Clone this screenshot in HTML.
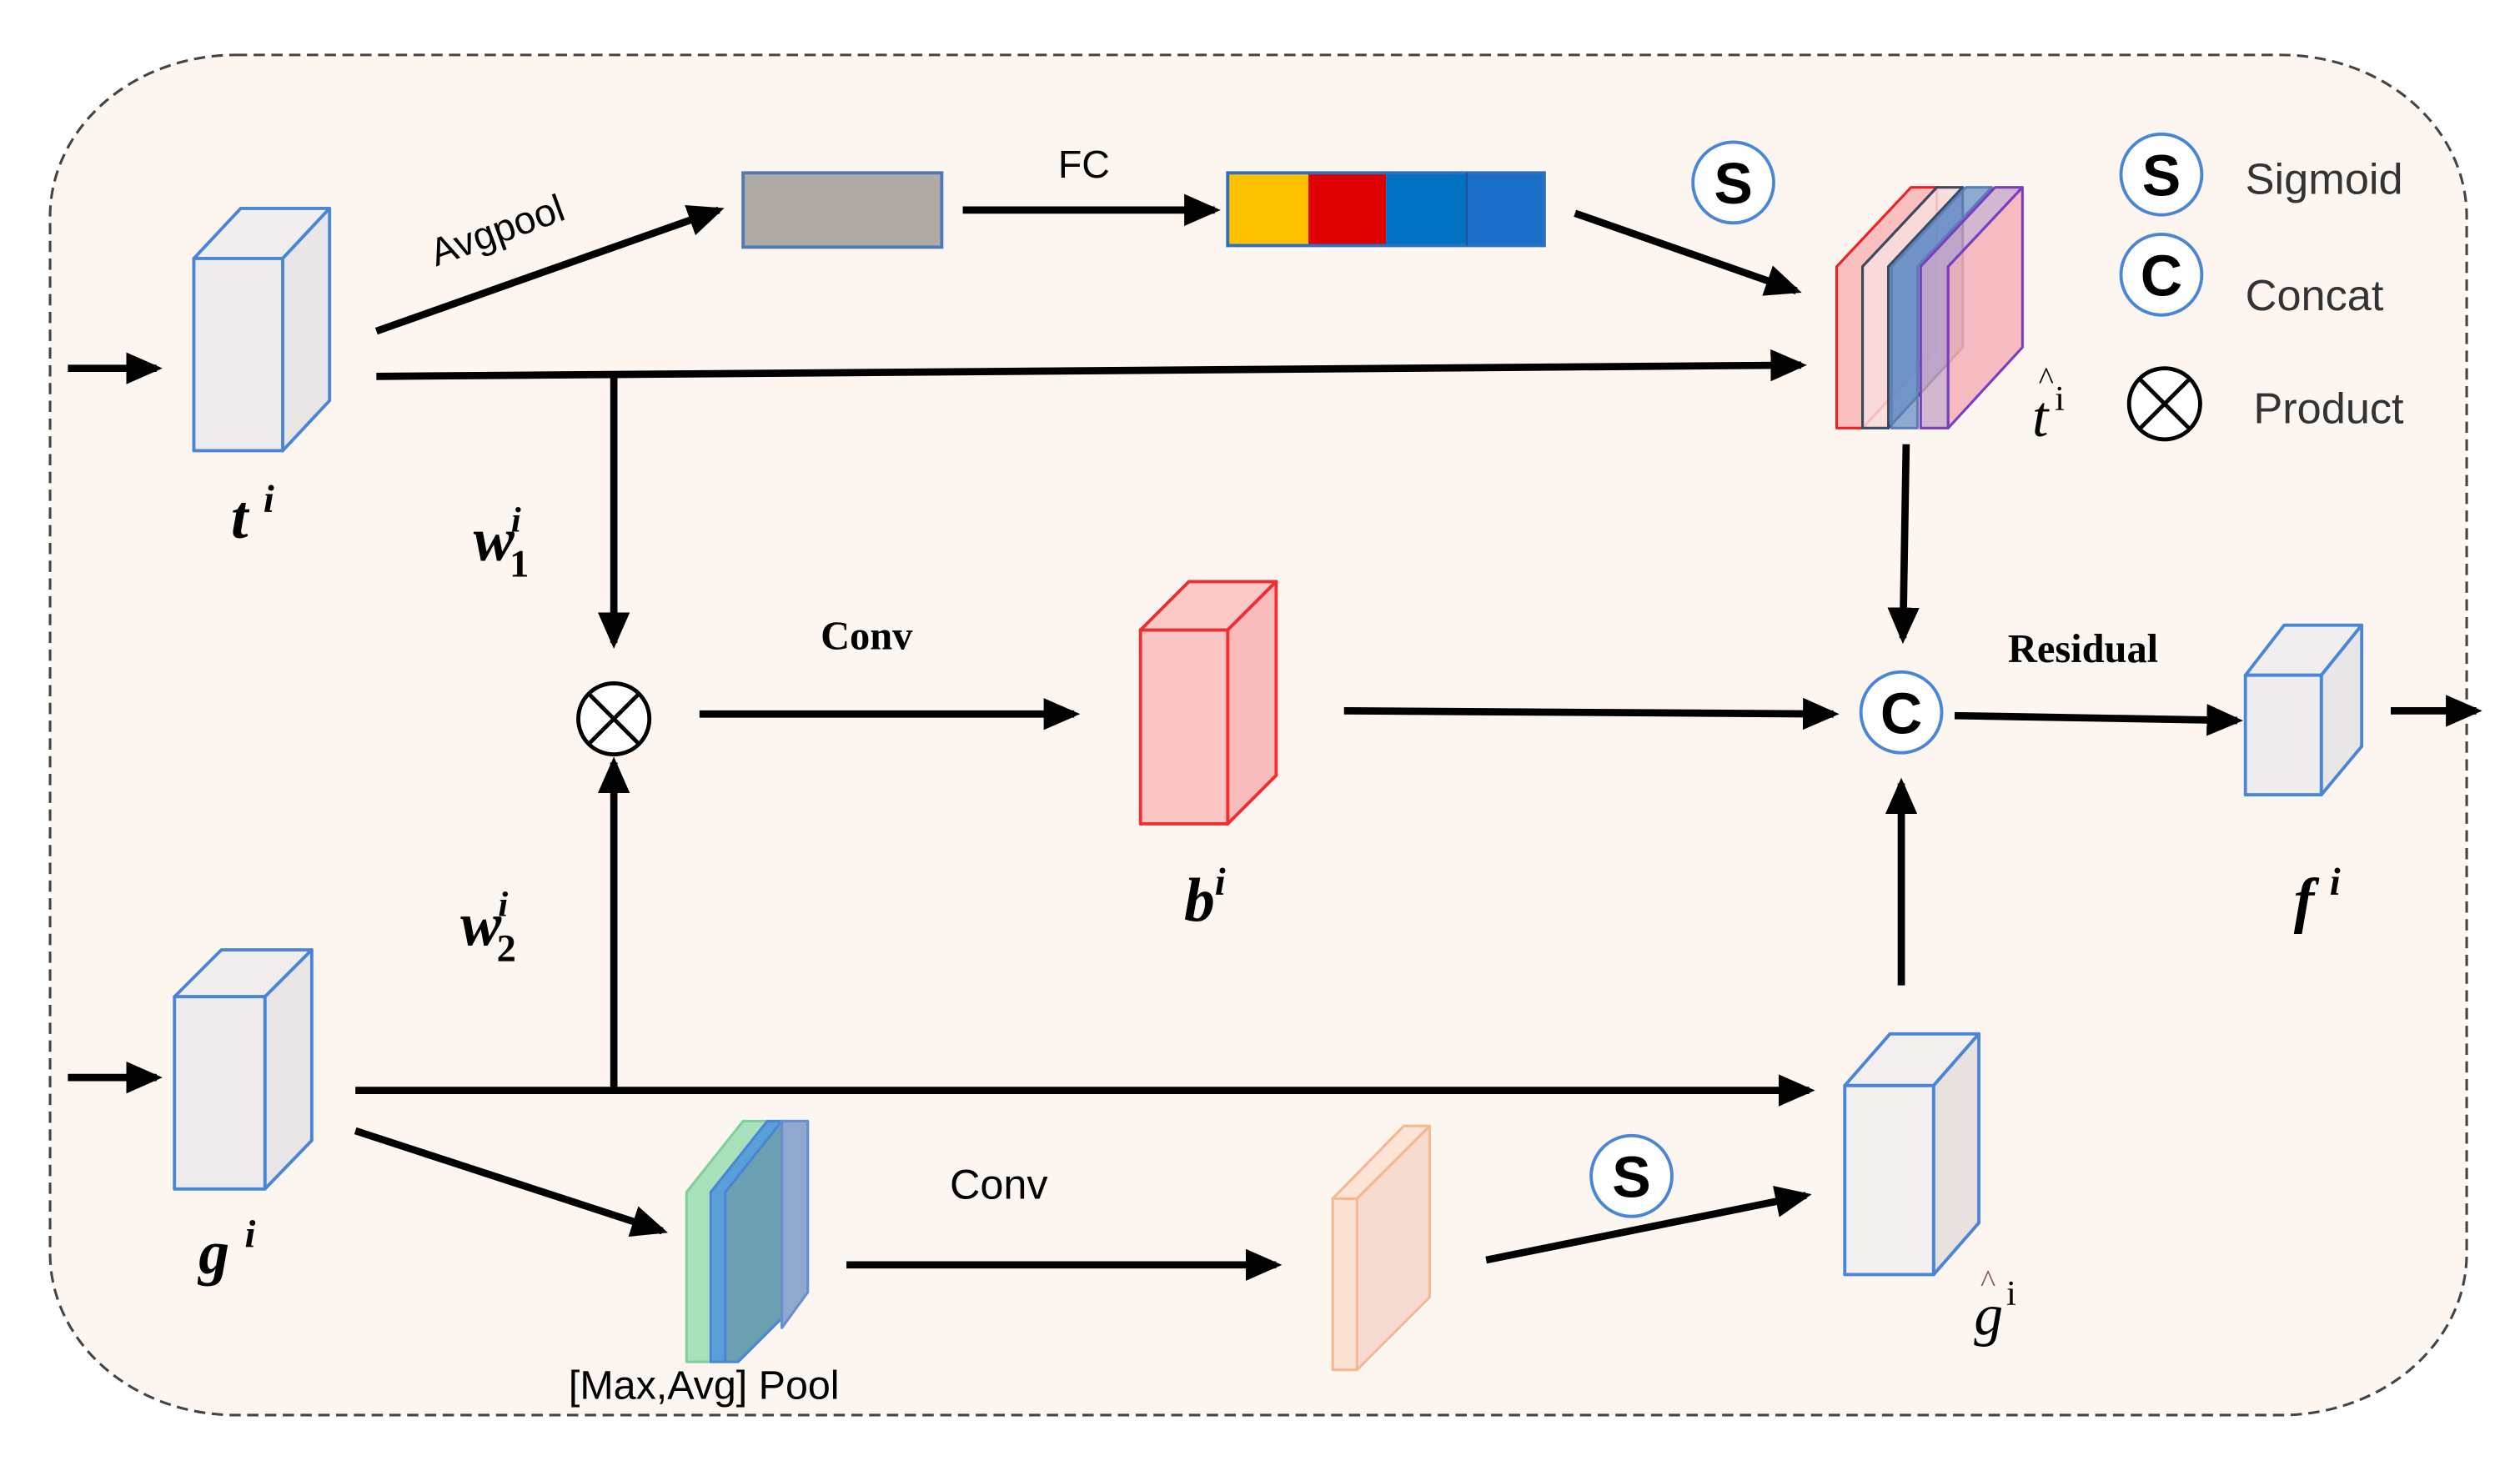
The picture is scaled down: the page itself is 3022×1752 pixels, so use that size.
<!DOCTYPE html>
<html><head><meta charset="utf-8"><style>html,body{margin:0;padding:0;background:#fff}svg{display:block}</style></head><body>
<svg width="3022" height="1752" viewBox="0 0 1560 904.4" xmlns="http://www.w3.org/2000/svg">
<defs>
<marker id="ah" markerWidth="5" markerHeight="4.4" refX="4.2" refY="2.2" orient="auto" markerUnits="strokeWidth">
<path d="M0,0 L5,2.2 L0,4.4 Z" fill="#000"/></marker>
</defs>
<rect x="0" y="0" width="1560" height="904.4" fill="#fff"/>
<rect x="31" y="34" width="1496" height="842" rx="115" ry="100" fill="#fdf5f0" stroke="#444" stroke-width="1.6" stroke-dasharray="7,4"/>

<g stroke="#000" stroke-width="4.5" fill="none" marker-end="url(#ah)">
<line x1="42" y1="228" x2="97" y2="228"/>
<line x1="233" y1="205" x2="445" y2="130"/>
<line x1="233" y1="233" x2="1115" y2="226"/>
<line x1="596" y1="130" x2="752" y2="130"/>
<line x1="975" y1="132" x2="1112" y2="180"/>
<line x1="380" y1="233" x2="380" y2="398"/>
<line x1="433" y1="442" x2="665" y2="442"/>
<line x1="832" y1="440" x2="1135" y2="442"/>
<line x1="1180" y1="275" x2="1178" y2="395"/>
<line x1="1210" y1="443" x2="1385" y2="446"/>
<line x1="1480" y1="440" x2="1533" y2="440"/>
<line x1="42" y1="667" x2="97" y2="667"/>
<line x1="220" y1="675" x2="1120" y2="675"/>
<line x1="380" y1="675" x2="380" y2="472"/>
<line x1="220" y1="700" x2="410" y2="762"/>
<line x1="524" y1="783" x2="790" y2="783"/>
<line x1="920" y1="780" x2="1118" y2="740"/>
<line x1="1177" y1="610" x2="1177" y2="485"/>
</g>

<!-- cube helper shapes -->
<g stroke="#4a86d8" stroke-width="2" stroke-linejoin="round">
<!-- t cube -->
<polygon points="120,160 149,129 204,129 175,160" fill="#f1eeef"/>
<polygon points="175,160 204,129 204,248 175,279" fill="#e9e6e8"/>
<rect x="120" y="160" width="55" height="119" fill="#efecee"/>
<!-- g cube -->
<polygon points="108,617 137,588 193,588 164,617" fill="#f1eeef"/>
<polygon points="164,617 193,588 193,706 164,736" fill="#e9e6e8"/>
<rect x="108" y="617" width="56" height="119" fill="#efecee"/>
<!-- g-hat cube -->
<polygon points="1142,672 1170,640 1225,640 1197,672" fill="#f3efee"/>
<polygon points="1197,672 1225,640 1225,757 1197,789" fill="#e8e1df"/>
<rect x="1142" y="672" width="55" height="117" fill="#f3f0ef"/>
<!-- f cube -->
<polygon points="1390,418 1414,387 1462,387 1437,418" fill="#f1eeef"/>
<polygon points="1437,418 1462,387 1462,462 1437,492" fill="#e9e6e8"/>
<rect x="1390" y="418" width="47" height="74" fill="#efecee"/>
</g>
<!-- b cube red -->
<g stroke="#f03030" stroke-width="2" stroke-linejoin="round">
<polygon points="706,390 736,360 790,360 760,390" fill="#fcc8c8"/>
<polygon points="760,390 790,360 790,480 760,510" fill="#f9bcbc"/>
<rect x="706" y="390" width="54" height="120" fill="#fcc6c6"/>
</g>
<!-- gray box & color bar -->
<rect x="460" y="107" width="123" height="46" fill="#b0aaa7" stroke="#4f7ab8" stroke-width="2"/>
<rect x="760" y="107" width="50" height="45" fill="#ffc000"/>
<rect x="810" y="107" width="48" height="45" fill="#e00000"/>
<rect x="858" y="107" width="50" height="45" fill="#0070c0"/>
<rect x="908" y="107" width="48" height="45" fill="#1a70c8"/>
<rect x="760" y="107" width="196" height="45" fill="none" stroke="#2f6fc0" stroke-width="2"/>
<line x1="908" y1="107" x2="908" y2="152" stroke="#1f4f8f" stroke-width="1"/>

<!-- t-hat stack -->
<g stroke-width="1.6" stroke-linejoin="round">
<polygon points="1137,165 1183,116 1199,116 1153,165 1153,265 1137,265" fill="#f9b6b6" fill-opacity="0.85" stroke="#f02020"/>
<polygon points="1153,165 1199,116 1199,215 1153,265" fill="#f9c6c6" fill-opacity="0.7" stroke="#f02020"/>
<polygon points="1153,165 1199,116 1215,116 1169,165 1169,265 1153,265" fill="#f7dada" fill-opacity="0.85" stroke="#3a4a60"/>
<polygon points="1169,165 1215,116 1215,215 1169,265" fill="#7d97c0" fill-opacity="0.9" stroke="#3a4a60"/>
<polygon points="1171,165 1217,116 1233,116 1187,165 1187,265 1171,265" fill="#6a90c8" fill-opacity="0.75" stroke="#5b7fb8"/>
<polygon points="1189,165 1235,116 1252,116 1206,165 1206,265 1189,265" fill="#c8a6c8" fill-opacity="0.8" stroke="#7a3fc0"/>
<polygon points="1206,165 1252,116 1252,215 1206,265" fill="#f4b0b8" fill-opacity="0.85" stroke="#7a3fc0"/>
</g>
<!-- pool slabs -->
<g stroke-width="1.6" stroke-linejoin="round">
<polygon points="425,738 460,694 475,694 440,738 440,843 425,843" fill="#a8e0bc" stroke="#7fd09a"/>
<polygon points="440,738 475,694 475,798 440,843" fill="#8cc8b0" stroke="#7fd09a"/>
<polygon points="440,738 475,694 484,694 449,738 449,843 440,843" fill="#5aa0d8" stroke="#4a86d8"/>
<polygon points="449,738 484,694 500,694 500,800 457,843 449,843" fill="#6aa0b0" stroke="#4a86d8"/>
<polygon points="484,694 500,694 500,800 484,822" fill="#8fa8d0" stroke="#6a8ed0"/>
</g>
<!-- orange slab -->
<g stroke="#f6b890" stroke-width="1.6" stroke-linejoin="round">
<polygon points="825,742 869,697 885,697 840,742" fill="#fbe4d6"/>
<polygon points="840,742 885,697 885,803 840,848" fill="#f6dcd0"/>
<rect x="825" y="742" width="15" height="106" fill="#fbe2d4"/>
</g>

<!-- circles -->
<g fill="#fff" stroke="#4a86d8" stroke-width="2">
<circle cx="1073" cy="113" r="25"/>
<circle cx="1338" cy="108" r="25"/>
<circle cx="1338" cy="170" r="25"/>
<circle cx="1177" cy="441" r="25"/>
<circle cx="1010" cy="728" r="25"/>
</g>
<g fill="#fff" stroke="#000" stroke-width="2.5">
<circle cx="1340" cy="250" r="22"/>
<circle cx="380" cy="445" r="22"/>
</g>
<g stroke="#000" stroke-width="2.5">
<line x1="1325" y1="235" x2="1355" y2="265"/><line x1="1355" y1="235" x2="1325" y2="265"/>
<line x1="365" y1="430" x2="395" y2="460"/><line x1="395" y1="430" x2="365" y2="460"/>
</g>
<g font-family="Liberation Sans, sans-serif" font-weight="bold" font-size="36" text-anchor="middle" fill="#000">
<text x="1073" y="126">S</text>
<text x="1338" y="121">S</text>
<text x="1338" y="183">C</text>
<text x="1177" y="454">C</text>
<text x="1010" y="741">S</text>
</g>

<!-- labels -->
<g font-family="Liberation Sans, sans-serif" fill="#222">
<text x="1390" y="120" font-size="27" fill="#333">Sigmoid</text>
<text x="1390" y="192" font-size="27" fill="#333">Concat</text>
<text x="1395" y="262" font-size="27" fill="#333">Product</text>
<text x="655" y="110" font-size="24" fill="#000">FC</text>
<text x="270" y="165" font-size="24" fill="#000" transform="rotate(-20 270 165)">Avgpool</text>
<text x="588" y="742" font-size="26" fill="#000">Conv</text>
<text x="352" y="866" font-size="25" fill="#000">[Max,Avg] Pool</text>
</g>
<g font-family="Liberation Serif, serif" font-weight="bold" fill="#000">
<text x="508" y="402" font-size="25">Conv</text>
<text x="1243" y="410" font-size="25">Residual</text>
</g>
<g font-family="Liberation Serif, serif" font-style="italic" font-weight="bold" fill="#000" font-size="38">
<text x="143" y="333">t <tspan font-size="24" dy="-16">i</tspan></text>
<text x="123" y="788">g <tspan font-size="24" dy="-16">i</tspan></text>
<text x="733" y="570">b<tspan font-size="24" dy="-16">i</tspan></text>
<text x="1420" y="570">f <tspan font-size="24" dy="-16">i</tspan></text>
<text x="293" y="347">w<tspan font-size="22" dx="-2" dy="-18">i</tspan><tspan font-size="24" dx="-7" dy="28" font-style="normal">1</tspan></text>
<text x="285" y="585">w<tspan font-size="22" dx="-2" dy="-18">i</tspan><tspan font-size="24" dx="-7" dy="28" font-style="normal">2</tspan></text>
</g>
<g font-family="Liberation Serif, serif" fill="#000">
<text x="1258" y="270" font-size="36" font-style="italic">t</text><text x="1262" y="241" font-size="20">^</text><text x="1272" y="254" font-size="22">i</text>
<text x="1222" y="826" font-size="36" font-style="italic">g</text><text x="1226" y="800" font-size="20" fill="#8a5a50">^</text><text x="1242" y="808" font-size="22">i</text>
</g>
</svg>
</body></html>
